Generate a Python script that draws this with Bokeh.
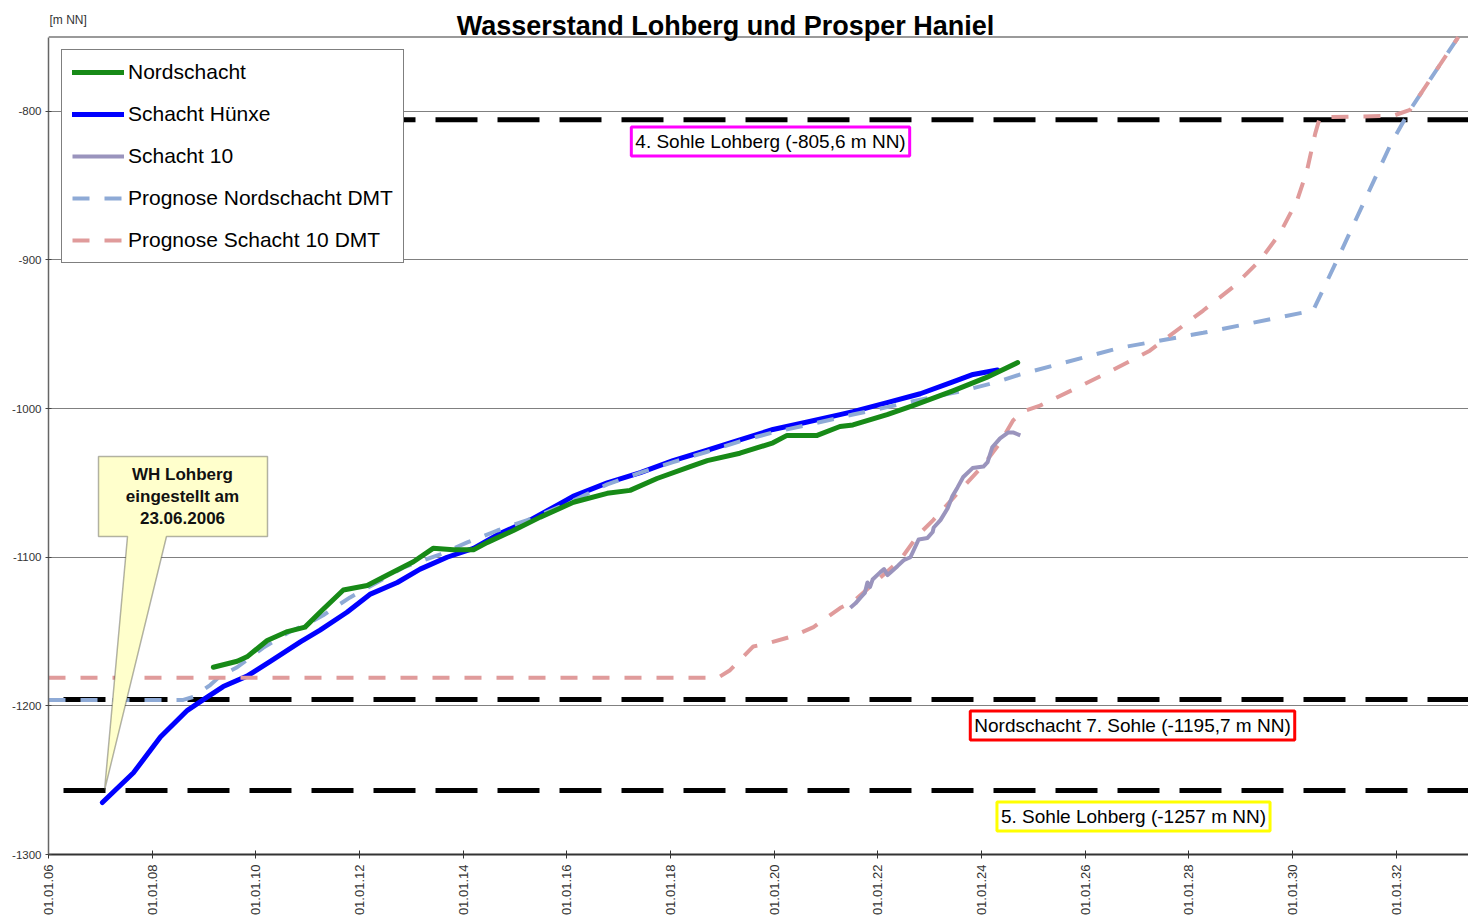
import math
from datetime import datetime, timedelta
from bokeh.plotting import figure
from bokeh.models import (FixedTicker, DatetimeTickFormatter, Span, Label, PolyAnnotation,
                          Legend, LegendItem, Range1d)
from bokeh.embed import file_html
from bokeh.resources import INLINE

# ---------------- data (decimal years, m NN) ----------------
nord_t = [2009.18, 2009.64, 2009.83, 2010.22, 2010.61, 2010.95, 2011.24, 2011.69, 2012.15, 2012.54,
          2013.04, 2013.42, 2013.81, 2014.20, 2014.47, 2014.97, 2015.49, 2016.13, 2016.78, 2017.22,
          2017.74, 2018.38, 2018.71, 2019.34, 2019.98, 2020.25, 2020.83, 2021.27, 2021.52, 2022.18,
          2022.68, 2023.45, 2024.10, 2024.70]
nord_y = [-1174, -1170, -1167, -1156, -1150, -1147, -1137, -1122, -1119, -1112,
          -1103, -1094, -1095, -1095, -1090, -1082, -1073, -1063, -1057, -1055,
          -1047, -1039, -1035, -1030, -1023, -1018, -1018, -1012, -1011, -1004,
          -998, -988, -979, -969]

hunxe_t = [2007.04, 2007.64, 2008.16, 2008.68, 2008.98, 2009.37, 2009.83, 2010.28, 2010.86, 2011.24,
           2011.76, 2012.20, 2012.73, 2013.17, 2013.69, 2014.20, 2014.71, 2015.29, 2015.87, 2016.12,
           2016.78, 2017.42, 2018.05, 2018.71, 2019.34, 2019.98, 2020.64, 2021.27, 2021.52, 2022.18,
           2022.82, 2023.45, 2023.84, 2024.31]
hunxe_y = [-1265, -1245, -1221, -1203, -1196, -1187, -1180, -1170, -1157, -1149,
           -1137, -1125, -1117, -1108, -1100, -1094, -1084, -1075, -1064, -1059,
           -1050, -1043, -1035, -1028, -1021, -1014, -1009, -1004, -1002, -996,
           -990, -982, -977, -974]

s10_t = [2021.47, 2021.57, 2021.67, 2021.75, 2021.80, 2021.85, 2021.90, 2022.05, 2022.12, 2022.19,
         2022.38, 2022.50, 2022.63, 2022.79, 2022.96, 2023.06, 2023.08, 2023.21, 2023.35, 2023.44,
         2023.54, 2023.65, 2023.83, 2024.04, 2024.12, 2024.21, 2024.36, 2024.52, 2024.61, 2024.75]
s10_y = [-1134, -1131, -1127, -1124, -1117, -1120, -1115, -1110, -1108, -1112,
         -1106, -1102, -1100, -1088, -1087, -1083, -1080, -1075, -1067, -1059,
         -1053, -1046, -1040, -1039, -1036, -1026, -1020, -1016, -1016, -1018]

pnord_t = [2006.00, 2008.60, 2008.79, 2009.12, 2009.31, 2009.64, 2010.14, 2010.66, 2010.99, 2011.30,
           2011.82, 2012.34, 2012.84, 2013.56, 2014.08, 2014.66, 2015.24, 2015.87, 2016.78, 2017.42,
           2018.05, 2018.71, 2019.34, 2019.98, 2020.64, 2021.52, 2022.18, 2022.82, 2023.65, 2024.31,
           2024.75, 2025.39, 2026.04, 2026.68, 2028.28, 2030.40, 2030.93, 2031.90, 2032.27, 2033.20]
pnord_y = [-1196, -1196, -1194, -1186, -1180, -1174, -1161, -1150, -1145, -1139,
           -1127, -1117, -1107, -1098, -1090, -1082, -1075, -1066, -1051, -1043,
           -1036, -1029, -1022, -1016, -1011, -1004, -999, -994, -988, -982,
           -977, -971, -965, -959, -949, -934, -895, -822, -799, -750]

ps10_t = [2006.00, 2018.92, 2019.15, 2019.60, 2019.87, 2020.37, 2020.76, 2021.28, 2021.52, 2022.43,
          2022.78, 2023.07, 2023.59, 2024.04, 2024.36, 2024.61, 2024.80, 2025.13, 2025.96, 2026.48,
          2027.25, 2028.28, 2028.86, 2029.38, 2029.76, 2030.09, 2030.28, 2030.44, 2030.53, 2031.94,
          2032.27, 2033.20]
ps10_y = [-1181, -1181, -1176, -1160, -1158, -1153, -1147, -1134, -1130, -1102,
          -1085, -1075, -1055, -1038, -1023, -1008, -1002, -998, -984, -975,
          -961, -934, -918, -900, -882, -860, -840, -815, -804, -803,
          -799, -750]

levels = [-805.6, -1195.7, -1257.0]
level_labels = ["4. Sohle Lohberg (-805,6 m NN)", "Nordschacht 7. Sohle (-1195,7 m NN)",
                "5. Sohle Lohberg (-1257 m NN)"]
level_colors = ["#ff00ff", "#ff0000", "#ffff00"]

y_ticks = [-1300, -1200, -1100, -1000, -900, -800]
y_bottom, y_top = -1300, -750
x_tick_years = [2006, 2008, 2010, 2012, 2014, 2016, 2018, 2020, 2022, 2024, 2026, 2028, 2030, 2032]

series_names = ["Nordschacht", "Schacht Hünxe", "Schacht 10",
                "Prognose Nordschacht DMT", "Prognose Schacht 10 DMT"]

title_text = "Wasserstand Lohberg und Prosper Haniel"
unit_text = "[m NN]"
callout_text = "WH Lohberg\neingestellt am\n23.06.2006"

# ---------------- helpers ----------------
EPOCH = datetime(1970, 1, 1)


def to_dt(v):
    y = int(v)
    start = datetime(y, 1, 1)
    days = (datetime(y + 1, 1, 1) - start).days
    return start + timedelta(days=(v - y) * days)


def to_ms(v):
    return (to_dt(v) - EPOCH).total_seconds() * 1000.0


FONT = "Liberation Sans"

# frame spans the full canvas height above the x axis; the area above y_top acts as the title strip
p = figure(width=1468, height=918, x_axis_type="datetime",
           x_range=Range1d(to_ms(2006.0), to_ms(2033.397)), y_range=Range1d(y_bottom, -725.4),
           min_border_left=48, min_border_right=0, min_border_top=0, min_border_bottom=63,
           output_backend="svg", toolbar_location=None)
p.outline_line_color = None
p.background_fill_color = "white"
p.border_fill_color = "white"

# axes
p.yaxis.ticker = FixedTicker(ticks=y_ticks)
p.yaxis.bounds = (y_bottom, y_top)
p.yaxis.major_label_overrides = {t: str(t) for t in y_ticks}
p.ygrid.ticker = FixedTicker(ticks=y_ticks)
p.ygrid.grid_line_color = "#808080"
p.ygrid.grid_line_width = 1.2
p.xgrid.visible = False
p.yaxis.major_label_text_font = FONT
p.yaxis.major_label_text_font_size = "11.5px"
p.yaxis.major_label_text_color = "#333333"
p.yaxis.axis_line_color = "#666666"
p.yaxis.axis_line_width = 1.5
p.yaxis.major_tick_in = 3
p.yaxis.major_tick_out = 3
p.yaxis.major_tick_line_color = "#444444"
p.yaxis.minor_tick_line_color = None
p.yaxis.major_label_standoff = 4

fmt = "%d.%m.%y"
p.xaxis.ticker = FixedTicker(ticks=[to_ms(y) for y in x_tick_years])
p.xaxis.formatter = DatetimeTickFormatter(microseconds=fmt, milliseconds=fmt, seconds=fmt, minsec=fmt,
                                          minutes=fmt, hourmin=fmt, hours=fmt, days=fmt,
                                          months=fmt, years=fmt)
p.xaxis.major_label_orientation = math.pi / 2
p.xaxis.major_label_text_font = FONT
p.xaxis.major_label_text_font_size = "13px"
p.xaxis.major_label_text_color = "#333333"
p.xaxis.axis_line_color = "#333333"
p.xaxis.axis_line_width = 2
p.xaxis.major_tick_in = 4
p.xaxis.major_tick_out = 4
p.xaxis.major_tick_line_color = "#333333"
p.xaxis.minor_tick_line_color = None
p.xaxis.major_label_standoff = 6

# top border of the plot area
p.add_layout(Span(location=y_top, dimension="width", line_color="#9a9a9a", line_width=2,
                  level="underlay"))

# level lines
for lv in levels:
    p.add_layout(Span(location=lv, dimension="width", line_color="black", line_width=5,
                      line_dash="42 20", line_dash_offset=47, level="underlay"))

# series
r_hunxe = p.line([to_ms(v) for v in hunxe_t], hunxe_y, line_color="#0000ff", line_width=5,
                 line_join="round", line_cap="round")
r_pnord = p.line([to_ms(v) for v in pnord_t], pnord_y, line_color="#8eaad6", line_width=4,
                 line_dash="17 15")
r_nord = p.line([to_ms(v) for v in nord_t], nord_y, line_color="#178a17", line_width=5,
                line_join="round", line_cap="round")
r_ps10 = p.line([to_ms(v) for v in ps10_t], ps10_y, line_color="#e09b9b", line_width=4,
                line_dash="17 15")
r_s10 = p.line([to_ms(v) for v in s10_t], s10_y, line_color="#9a94bd", line_width=4,
               line_join="round")

legend = Legend(items=[LegendItem(label=series_names[0], renderers=[r_nord]),
                       LegendItem(label=series_names[1], renderers=[r_hunxe]),
                       LegendItem(label=series_names[2], renderers=[r_s10]),
                       LegendItem(label=series_names[3], renderers=[r_pnord]),
                       LegendItem(label=series_names[4], renderers=[r_ps10])],
                location=(13, 591), label_text_font=FONT, label_text_font_size="21px",
                label_text_color="black", glyph_width=52, glyph_height=20, label_height=20,
                spacing=18, padding=10, label_standoff=4, border_line_color="black",
                border_line_width=1.5, background_fill_color="white", background_fill_alpha=1.0,
                margin=0)
p.add_layout(legend)

# level labels (screen units relative to the frame's bottom-left)
label_pos = [(722, 713), (1084, 129), (1085, 38)]
for (lx, ly), txt, col in zip(label_pos, level_labels, level_colors):
    p.add_layout(Label(x=lx, y=ly, x_units="screen", y_units="screen", text=txt,
                       text_font=FONT, text_font_size="19px", text_color="black",
                       text_align="center", text_baseline="middle",
                       background_fill_color="white", background_fill_alpha=1.0,
                       border_line_color=col, border_line_width=3, padding=4))

# callout
p.add_layout(PolyAnnotation(xs=[50, 219, 219, 118, 56, 79, 50], ys=[398, 398, 318, 318, 64, 318, 318],
                            xs_units="screen", ys_units="screen",
                            fill_color="#ffffcc", fill_alpha=1.0, line_color="black", line_width=1.5))
p.add_layout(Label(x=134, y=358, x_units="screen", y_units="screen", text=callout_text,
                   text_font=FONT, text_font_size="17px", text_font_style="bold",
                   text_align="center", text_baseline="middle", text_line_height=1.18,
                   text_color="#111111"))

# title and unit (in the strip above the plot area)
p.add_layout(Label(x=677, y=829, x_units="screen", y_units="screen", text=title_text,
                   text_font=FONT, text_font_size="27px", text_font_style="bold",
                   text_align="center", text_baseline="alphabetic", text_color="black"))
p.add_layout(Label(x=1, y=835, x_units="screen", y_units="screen", text=unit_text,
                   text_font=FONT, text_font_size="12px", text_align="left",
                   text_baseline="alphabetic", text_color="#333333"))

open("out.html", "w").write(file_html(p, INLINE))
